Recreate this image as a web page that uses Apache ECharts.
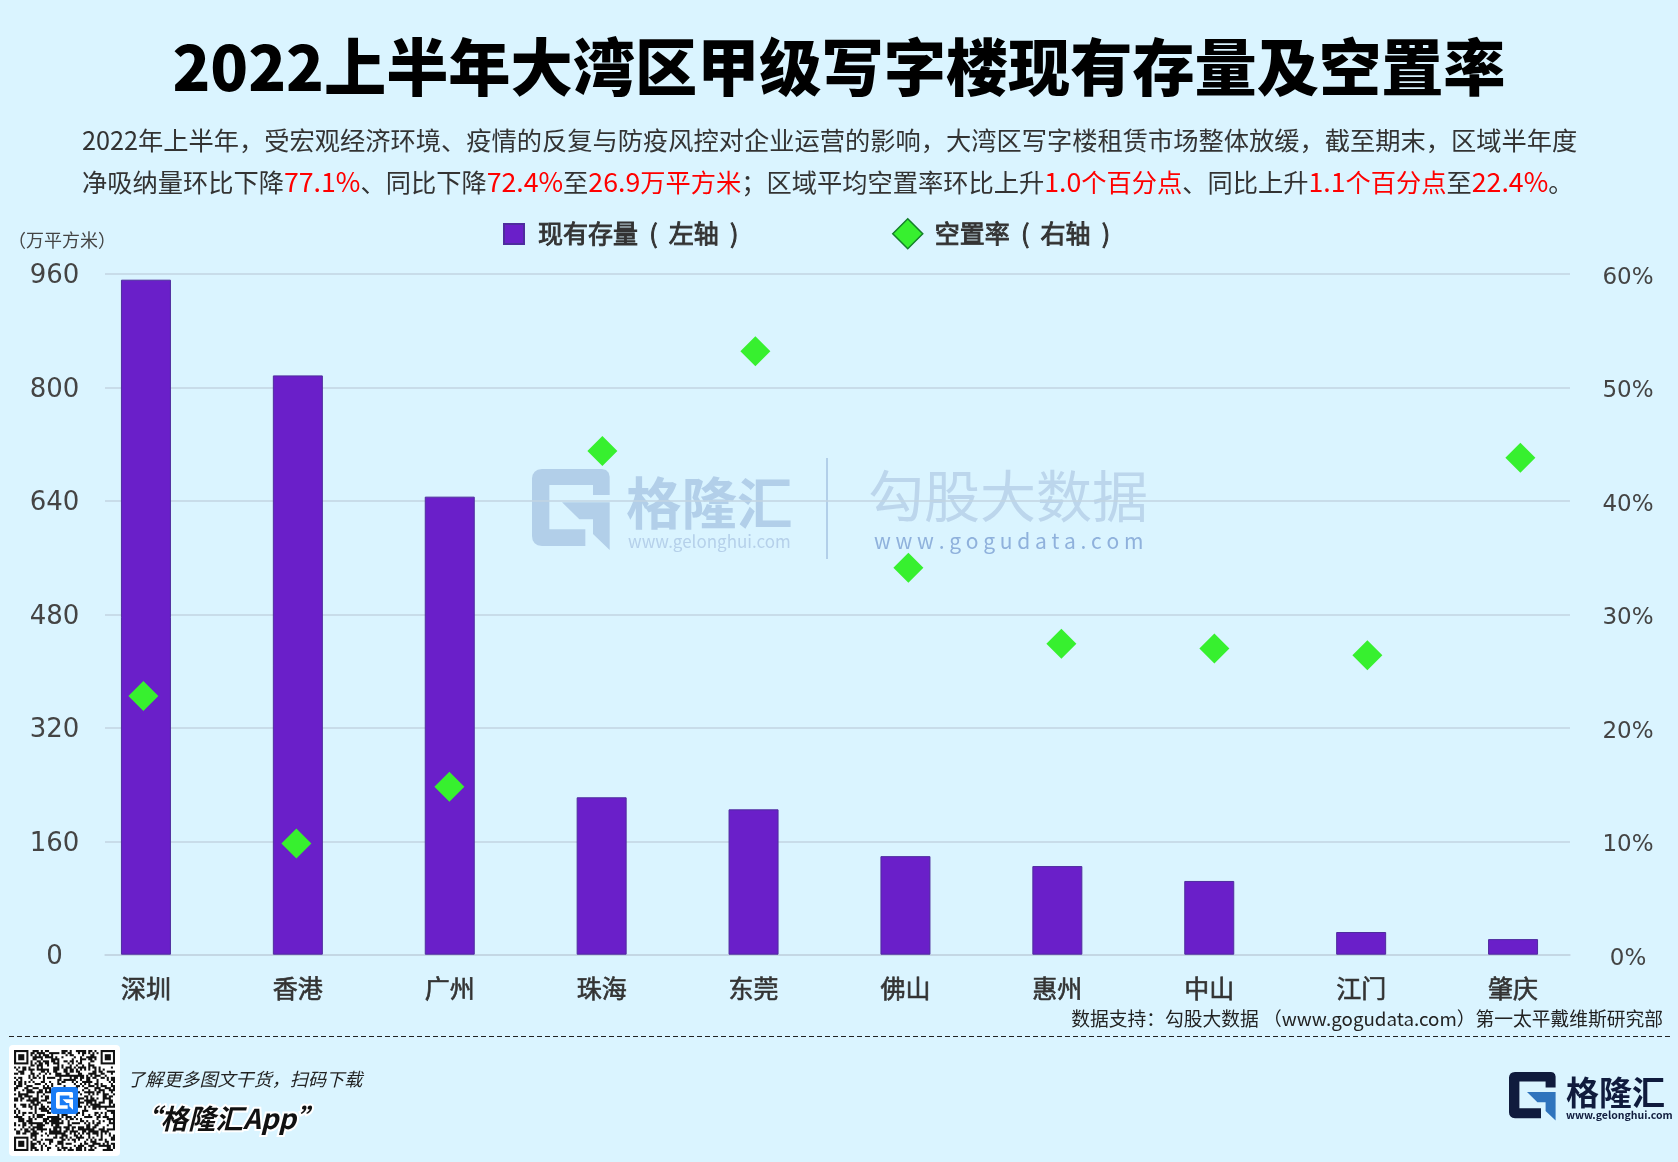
<!DOCTYPE html>
<html>
<head>
<meta charset="utf-8">
<title>2022上半年大湾区甲级写字楼现有存量及空置率</title>
<script src="https://cdn.jsdelivr.net/npm/echarts@6/dist/echarts.min.js"></script>
<style>
    html, body { margin: 0; padding: 0; background: #daf4ff; }
    #chart-main { width: 1678px; height: 1162px; }
</style>
</head>
<body>
<div id="chart-main"></div>
<script>
    var cities = ['深圳', '香港', '广州', '珠海', '东莞', '佛山', '惠州', '中山', '江门', '肇庆'];
    var stock = [952, 817, 646, 222, 205, 139, 125, 104, 32, 22];
    var vacancy = [22.8, 9.8, 14.8, 44.4, 53.2, 34.1, 27.4, 27.0, 26.4, 43.8];
    var stockTicks = [0, 160, 320, 480, 640, 800, 960];
    var vacancyTicks = [0, 10, 20, 30, 40, 50, 60];

    var stockName = '现有存量  (  左轴  )';
    var vacancyName = '空置率  (  右轴  )';
    var titleText = '2022上半年大湾区甲级写字楼现有存量及空置率';
    var introLine1 = '2022年上半年，受宏观经济环境、疫情的反复与防疫风控对企业运营的影响，大湾区写字楼租赁市场整体放缓，截至期末，区域半年度';
    var introLine2 = [
        ['净吸纳量环比下降', 'txt'], ['77.1%', 'num'], ['、同比下降', 'txt'], ['72.4%', 'num'], ['至', 'txt'],
        ['26.9', 'num'], ['万平方米', 'red'], ['；区域平均空置率环比上升', 'txt'],
        ['1.0', 'num'], ['个百分点', 'red'], ['、同比上升', 'txt'],
        ['1.1', 'num'], ['个百分点', 'red'], ['至', 'txt'], ['22.4%', 'num'], ['。', 'txt']
    ];

    var CJK = '"Noto Sans CJK SC", "Noto Sans", sans-serif';
    var G_BODY = [[0, 28], [2, 17], [8, 8], [17, 2], [30, 0], [210, 0], [222, 3], [230, 11], [233, 23], [233, 78], [183, 78],
        [183, 48], [52, 48], [52, 181], [160, 181], [160, 231], [30, 231], [17, 229], [8, 223], [2, 214], [0, 201]];
    var G_ARROW = [[90, 100], [233, 100], [233, 243], [183, 195], [183, 151], [142, 151]];

    // the qr code in the footer is only decoration, its modules are a fixed bit pattern
    function qrCanvas() {
        var n = 49, cell = 2, state = 2463534242;
        var canvas = document.createElement('canvas');
        canvas.width = canvas.height = n * cell;
        var ctx = canvas.getContext('2d');
        ctx.fillStyle = '#111111';
        var inFinder = function (r, c) {
            return (r < 8 && c < 8) || (r < 8 && c >= n - 8) || (r >= n - 8 && c < 8);
        };
        var finder = function (r, c) {
            ctx.fillRect(c * cell, r * cell, 7 * cell, 7 * cell);
            ctx.clearRect((c + 1) * cell, (r + 1) * cell, 5 * cell, 5 * cell);
            ctx.fillRect((c + 2) * cell, (r + 2) * cell, 3 * cell, 3 * cell);
        };
        finder(0, 0);
        finder(0, n - 7);
        finder(n - 7, 0);
        for (var r = 0; r < n; r++) {
            for (var c = 0; c < n; c++) {
                state ^= state << 13; state ^= state >>> 17; state ^= state << 5;
                if (!inFinder(r, c) && (state & 3) < 2) {
                    ctx.fillRect(c * cell, r * cell, cell, cell);
                }
            }
        }
        return canvas;
    }

    function logoParts(x, y, s, body, arrow, z) {
        return [
            {type: 'polygon', x: x, y: y, scaleX: s, scaleY: s, z: z, shape: {points: G_BODY}, style: {fill: body}},
            {type: 'polygon', x: x, y: y, scaleX: s, scaleY: s, z: z, shape: {points: G_ARROW}, style: {fill: arrow}}
        ];
    }

    function plainText(x, y, text, size, color, extra) {
        var style = {
            x: x, y: y, text: text, fill: color,
            font: (extra && extra.font ? extra.font + ' ' : '') + size + 'px ' + CJK,
            textAlign: extra && extra.align || 'left',
            textVerticalAlign: 'middle'
        };
        if (extra && extra.stroke) {
            style.stroke = extra.stroke;
            style.lineWidth = extra.lineWidth;
        }
        return {type: 'text', z: extra && extra.z !== undefined ? extra.z : 10, style: style};
    }

    var introRich = introLine2.map(function (seg) {
        return '{' + seg[1] + '|' + seg[0] + '}';
    }).join('');

    var graphics = [
        plainText(82, 140, introLine1, 25.25, '#333333'),
        {
            type: 'text', z: 10,
            style: {
                x: 82, y: 182, text: introRich, textVerticalAlign: 'middle',
                rich: {
                    txt: {fontSize: 25.25, fontFamily: CJK, fill: '#333333'},
                    red: {fontSize: 25.25, fontFamily: CJK, fill: '#ff0000'},
                    num: {fontSize: 26.7, fontFamily: CJK, fill: '#ff0000'}
                }
            }
        },
        plainText(8, 240, '（万平方米）', 18, '#444444'),
        plainText(1663, 1019, '数据支持：勾股大数据 （www.gogudata.com）第一太平戴维斯研究部', 18.75, '#222222', {align: 'right'}),
        {
            type: 'line', z: 10,
            shape: {x1: 9, y1: 1036.5, x2: 1670, y2: 1036.5},
            style: {stroke: '#222222', lineWidth: 1, lineDash: [5, 3]}
        },

        // watermark, sits under the grid lines
        plainText(626, 503, '格隆汇', 55.5, '#b2cfe9', {z: -1, font: 'bold'}),
        plainText(628, 542, 'www.gelonghui.com', 17, '#b5d0ea', {z: -1}),
        {type: 'rect', z: -1, shape: {x: 826, y: 458, width: 2, height: 101}, style: {fill: '#b2cfe9'}},
        plainText(868, 496, '勾股大数据', 56, '#bcd6ec', {z: -1}),
        plainText(874, 541, 'w w w . g o g u d a t a . c o m', 21, '#8fb1dc', {z: -1}),

        // footer
        {type: 'rect', z: 10, shape: {x: 9, y: 1045, width: 111, height: 111, r: 4}, style: {fill: '#ffffff'}},
        {type: 'image', z: 11, style: {image: qrCanvas(), x: 14, y: 1050, width: 101, height: 101}},
        {type: 'rect', z: 12, shape: {x: 51, y: 1087, width: 27, height: 27, r: 3}, style: {fill: '#1a7cf5'}},
        plainText(127, 1079, '了解更多图文干货，扫码下载', 18.1, '#222222', {font: 'italic'}),
        plainText(133, 1119, '“格隆汇App”', 27.5, '#111111', {font: 'italic bold', stroke: '#ffffff', lineWidth: 4}),
        plainText(1566, 1092, '格隆汇', 33, '#101b3d', {font: 'bold'}),
        plainText(1566, 1115, 'www.gelonghui.com', 10.5, '#101b3d', {font: 'bold'})
    ];
    graphics = graphics
        .concat(logoParts(532, 469, 1 / 3, '#b2cfe9', '#b2cfe9', -1))
        .concat(logoParts(1509, 1072, 0.2, '#101b3d', '#2f74bd', 10))
        .concat(logoParts(56, 1092, 0.073, '#ffffff', '#ffffff', 13));

    var gridTop = 274, gridHeight = 680.7;
    var lineColor = '#c2d5e2';

    var option = {
        backgroundColor: '#daf4ff',
        animation: false,
        title: {
            text: titleText,
            left: 'center',
            top: 31,
            textStyle: {fontFamily: CJK, fontWeight: 900, fontSize: 62.2, color: '#000000'}
        },
        legend: [
            {
                left: 498, top: 216, itemWidth: 20, itemHeight: 20, icon: 'rect',
                data: [stockName],
                textStyle: {
                    fontFamily: CJK, fontSize: 25, color: '#333333', padding: [0, 0, 0, 9],
                    textBorderColor: '#333333', textBorderWidth: 0.9
                }
            },
            {
                left: 887, top: 213, itemWidth: 30, itemHeight: 30, icon: 'diamond',
                data: [{name: vacancyName, itemStyle: {borderColor: '#14802a', borderWidth: 1.5}}],
                textStyle: {
                    fontFamily: CJK, fontSize: 25, color: '#333333', padding: [0, 0, 0, 7],
                    textBorderColor: '#333333', textBorderWidth: 0.9
                }
            }
        ],
        // the grid lines, the bars and the diamonds do not share one horizontal span in the source
        grid: [
            {left: 105, width: 1465, top: gridTop, height: gridHeight},
            {left: 70, width: 1519, top: gridTop, height: gridHeight},
            {left: 66.9, width: 1530, top: gridTop, height: gridHeight}
        ],
        xAxis: [
            {
                gridIndex: 0, type: 'category', data: cities,
                axisLine: {lineStyle: {color: lineColor, width: 1.5}},
                axisTick: {show: false}, axisLabel: {show: false}
            },
            {
                gridIndex: 1, type: 'category', data: cities,
                axisLine: {show: false}, axisTick: {show: false},
                axisLabel: {
                    margin: 21, interval: 0,
                    fontFamily: CJK, fontSize: 25, color: '#333333',
                    textBorderColor: '#333333', textBorderWidth: 0.6
                }
            },
            {gridIndex: 2, type: 'category', data: cities, show: false}
        ],
        yAxis: [
            {
                gridIndex: 0, type: 'value', position: 'left',
                min: stockTicks[0], max: stockTicks[stockTicks.length - 1], interval: stockTicks[1],
                axisLine: {show: false}, axisTick: {show: false},
                axisLabel: {
                    margin: 50.5, align: 'center', fontFamily: 'DejaVu Sans', fontSize: 26, color: '#444444',
                    verticalAlign: 'top', lineHeight: 5
                },
                splitLine: {lineStyle: {color: lineColor, width: 1.5}}
            },
            {
                gridIndex: 0, type: 'value', position: 'right',
                min: vacancyTicks[0], max: vacancyTicks[vacancyTicks.length - 1], interval: vacancyTicks[1],
                axisLine: {show: false}, axisTick: {show: false},
                axisLabel: {
                    margin: 58, align: 'center', fontFamily: 'DejaVu Sans', fontSize: 23, color: '#444444',
                    verticalAlign: 'top', lineHeight: 8, formatter: '{value}%'
                },
                splitLine: {show: false}
            },
            {gridIndex: 1, type: 'value', min: 0, max: 960, show: false},
            {gridIndex: 2, type: 'value', min: 0, max: 60, show: false}
        ],
        series: [
            {
                name: stockName, type: 'bar',
                xAxisIndex: 1, yAxisIndex: 2,
                data: stock, barWidth: 50,
                itemStyle: {color: '#6a1fc9', borderColor: '#4e2c9e', borderWidth: 1}
            },
            {
                name: vacancyName, type: 'scatter',
                xAxisIndex: 2, yAxisIndex: 3,
                data: vacancy, symbol: 'diamond', symbolSize: 30, z: 5,
                itemStyle: {color: '#37f02f', opacity: 1}
            }
        ],
        graphic: {elements: graphics}
    };

    var myChart = echarts.init(document.getElementById('chart-main'));
    myChart.setOption(option);
</script>
</body>
</html>
